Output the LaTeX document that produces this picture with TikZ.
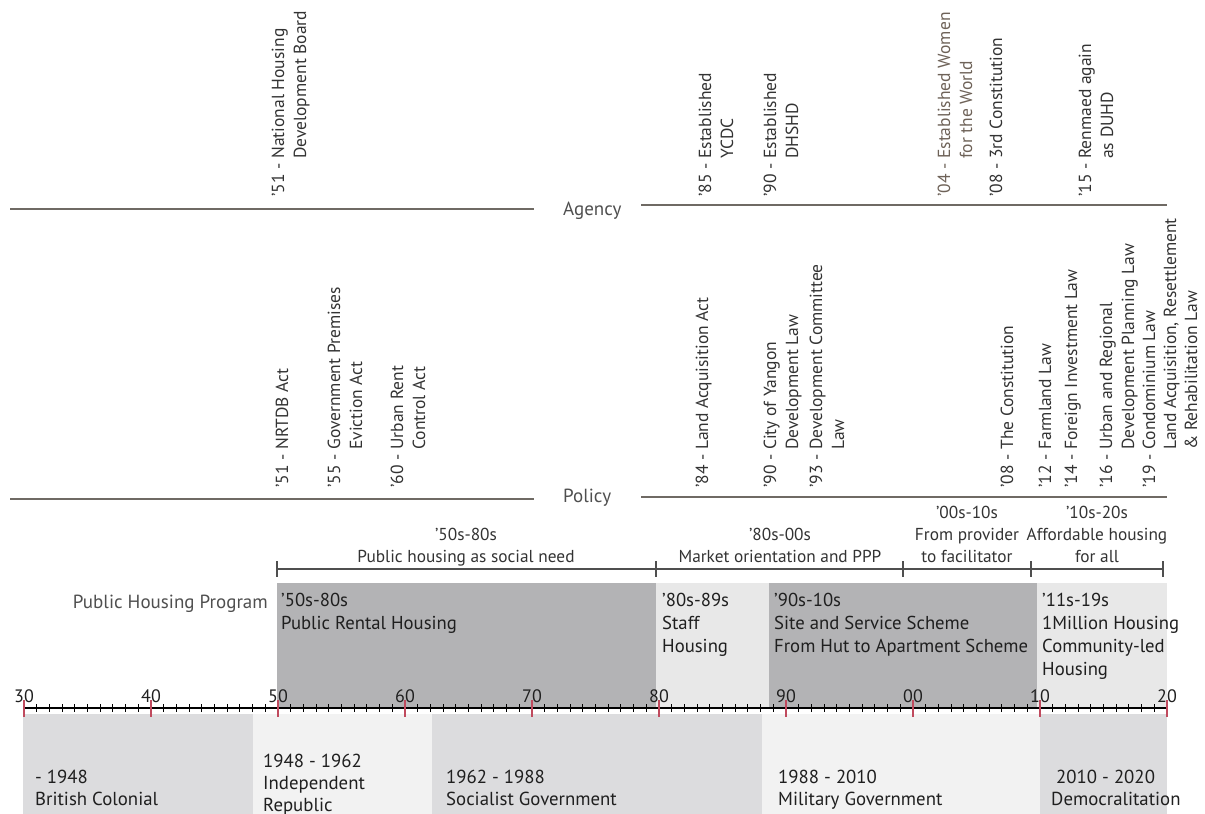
\documentclass[tikz,border=0pt]{standalone}
\usepackage{fontspec}
\setmainfont{PT Sans}
\definecolor{dkbox}{HTML}{B3B3B5}
\definecolor{ltbox}{HTML}{E8E8E8}
\definecolor{govA}{HTML}{DCDCDE}
\definecolor{govB}{HTML}{F2F2F2}
\definecolor{rulec}{HTML}{6F6A64}
\definecolor{txtc}{HTML}{333333}
\definecolor{lblc}{HTML}{4F4F4F}
\definecolor{tickred}{HTML}{C04A5E}
\definecolor{womc}{HTML}{6E6258}
\newcommand{\yrp}[1]{\mbox{#1 - }}
\begin{document}
\begin{tikzpicture}[x=1pt,y=-1pt]
\tikzset{
  rotlbl/.style={rotate=90, anchor=base west, inner sep=0pt, text=txtc,
    font=\fontsize{17.5}{22}\selectfont},
  sectrule/.style={draw=rulec, line width=2pt},
  sidelbl/.style={anchor=base west, inner sep=0pt, text=lblc,
    font=\fontsize{19}{22}\selectfont},
  perlbl/.style={anchor=base, inner sep=0pt, text=txtc,
    font=\fontsize{17.3}{22}\selectfont},
  barline/.style={draw=lblc, line width=1.2pt},
  boxtxt/.style={anchor=base west, inner sep=0pt, text=black!88,
    font=\fontsize{18.7}{23}\selectfont},
  govtxt/.style={anchor=base west, inner sep=0pt, text=black!88,
    font=\fontsize{18.8}{22}\selectfont},
  axlbl/.style={anchor=base, inner sep=0pt, text=black!88,
    font=\fontsize{18}{20}\selectfont},
}
\useasboundingbox (0,0) rectangle (1205,814);

% ---------- Agency ----------
\coordinate (agL1) at (10,209); \coordinate (agL2) at (534,209);
\coordinate (agR1) at (641,205); \coordinate (agR2) at (1167,205);
\draw[sectrule] (agL1) -- (agL2);
\draw[sectrule] (agR1) -- (agR2);
\node[sidelbl] (agency) at (563,215) {Agency};

\node[rotlbl] (a51) at (284,197) {\begin{tabular}[t]{@{}l@{}l@{}}\yrp{’51}&National Housing\\&Development Board\end{tabular}};
\node[rotlbl] (a85) at (711,197) {\begin{tabular}[t]{@{}l@{}l@{}}\yrp{’85}&Established\\&YCDC\end{tabular}};
\node[rotlbl] (a90) at (776,197) {\begin{tabular}[t]{@{}l@{}l@{}}\yrp{’90}&Established\\&DHSHD\end{tabular}};
\node[rotlbl, text=womc] (a04) at (950,197) {\begin{tabular}[t]{@{}l@{}l@{}}\yrp{’04}&Established Women\\&for the World\end{tabular}};
\node[rotlbl] (a08) at (1002,197) {\yrp{’08}3rd Constitution};
\node[rotlbl] (a15) at (1091,197) {\begin{tabular}[t]{@{}l@{}l@{}}\yrp{’15}&Renmaed again\\&as DUHD\end{tabular}};

% ---------- Policy ----------
\coordinate (poL1) at (10,499); \coordinate (poL2) at (534,499);
\coordinate (poR1) at (641,497); \coordinate (poR2) at (1167,497);
\draw[sectrule] (poL1) -- (poL2);
\draw[sectrule] (poR1) -- (poR2);
\node[sidelbl] (policy) at (563,502) {Policy};

\node[rotlbl] (p51) at (288,488) {\yrp{’51}NRTDB Act};
\node[rotlbl] (p55) at (340,488) {\begin{tabular}[t]{@{}l@{}l@{}}\yrp{’55}&Government Premises\\&Eviction Act\end{tabular}};
\node[rotlbl] (p60) at (403,488) {\begin{tabular}[t]{@{}l@{}l@{}}\yrp{’60}&Urban Rent\\&Control Act\end{tabular}};
\node[rotlbl] (p84) at (708,488) {\yrp{’84}Land Acquisition Act};
\node[rotlbl] (p90) at (776,488) {\begin{tabular}[t]{@{}l@{}l@{}}\yrp{’90}&City of Yangon\\&Development Law\end{tabular}};
\node[rotlbl] (p93) at (822,488) {\begin{tabular}[t]{@{}l@{}l@{}}\yrp{’93}&Development Committee\\&Law\end{tabular}};
\node[rotlbl] (p08) at (1013,488) {\yrp{’08}The Constitution};
\node[rotlbl] (p12) at (1051,488) {\yrp{’12}Farmland Law};
\node[rotlbl] (p14) at (1077,488) {\yrp{’14}Foreign Investment Law};
\node[rotlbl] (p16) at (1112,488) {\begin{tabular}[t]{@{}l@{}l@{}}\yrp{’16}&Urban and Regional\\&Development Planning Law\end{tabular}};
\node[rotlbl, font=\fontsize{17.5}{21}\selectfont] (p19) at (1155,488) {\begin{tabular}[t]{@{}l@{}l@{}}\yrp{’19}&Condominium Law\\&Land Acquisition, Resettlement\\&\& Rehabilitation Law\end{tabular}};

% ---------- Period bar ----------
\coordinate (b50) at (277,569);
\coordinate (b80) at (656,569);
\coordinate (b00) at (903,569);
\coordinate (b10) at (1031,569);
\coordinate (b20) at (1163,569);
\draw[barline] (b50) -- (b20);
\foreach \c in {b50,b80,b00,b10,b20}
  \draw[barline] ([yshift=8pt]\c) -- ([yshift=-8pt]\c);
\node[perlbl] (per1) at (466,562) {\begin{tabular}[b]{@{}c@{}}’50s-80s\\Public housing as social need\end{tabular}};
\node[perlbl] (per2) at (780,562) {\begin{tabular}[b]{@{}c@{}}’80s-00s\\Market orientation and PPP\end{tabular}};
\node[perlbl] (per3) at (967,562) {\begin{tabular}[b]{@{}c@{}}’00s-10s\\From provider\\to facilitator\end{tabular}};
\node[perlbl] (per4) at (1097,562) {\begin{tabular}[b]{@{}c@{}}’10s-20s\\Affordable housing\\for all\end{tabular}};

% ---------- Program boxes ----------
\fill[dkbox] (277,583) rectangle (656,708);
\fill[ltbox] (656,583) rectangle (769,708);
\fill[dkbox] (769,583) rectangle (1037,708);
\fill[ltbox] (1037,583) rectangle (1167,708);
\node[sidelbl, anchor=base east] (php) at (268,608) {Public Housing Program};
\node[boxtxt] (pr1) at (281,606) {\begin{tabular}[t]{@{}l@{}}’50s-80s\\Public Rental Housing\end{tabular}};
\node[boxtxt] (pr2) at (662,606) {\begin{tabular}[t]{@{}l@{}}’80s-89s\\Staff\\Housing\end{tabular}};
\node[boxtxt] (pr3) at (774,606) {\begin{tabular}[t]{@{}l@{}}’90s-10s\\Site and Service Scheme\\From Hut to Apartment Scheme\end{tabular}};
\node[boxtxt] (pr4) at (1042,606) {\begin{tabular}[t]{@{}l@{}}’11s-19s\\1Million Housing\\Community-led\\Housing\end{tabular}};

% ---------- Government boxes ----------
\fill[govA] (23,714) rectangle (253,814);
\fill[govB] (253,714) rectangle (432,814);
\fill[govA] (432,714) rectangle (762,814);
\fill[govB] (762,714) rectangle (1040,814);
\fill[govA] (1040,714) rectangle (1167,814);
\node[govtxt] (g1) at (35,783) {\begin{tabular}[t]{@{}l@{}}- 1948\\British Colonial\end{tabular}};
\node[govtxt] (g2) at (263,767) {\begin{tabular}[t]{@{}l@{}}1948 - 1962\\Independent\\Republic\end{tabular}};
\node[govtxt] (g3) at (446,783) {\begin{tabular}[t]{@{}l@{}}1962 - 1988\\Socialist Government\end{tabular}};
\node[govtxt] (g4) at (778,783) {\begin{tabular}[t]{@{}l@{}}1988 - 2010\\Military Government\end{tabular}};
\node[govtxt] (g5) at (1051,783) {\begin{tabular}[t]{@{}l@{}}\ 2010 - 2020\\Democralitation\end{tabular}};

% ---------- Axis ----------
\coordinate (ax0) at (24,708);
\coordinate (ax1) at (1167,708);
\draw[black, line width=1.2pt] (ax0) -- (ax1);
\foreach \i in {0,...,90}{
  \pgfmathsetmacro{\xx}{24+\i*12.7}
  \draw[black, line width=0.9pt] (\xx,704) -- (\xx,712);
}
\foreach \i/\lab in {0/30,1/40,2/50,3/60,4/70,5/80,6/90,7/00,8/10,9/20}{
  \pgfmathsetmacro{\xx}{24+\i*127}
  \draw[tickred, line width=1.5pt] (\xx,700) -- (\xx,717);
  \node[axlbl] (lab\lab) at (\xx,702) {\lab};
}
\end{tikzpicture}
\end{document}
